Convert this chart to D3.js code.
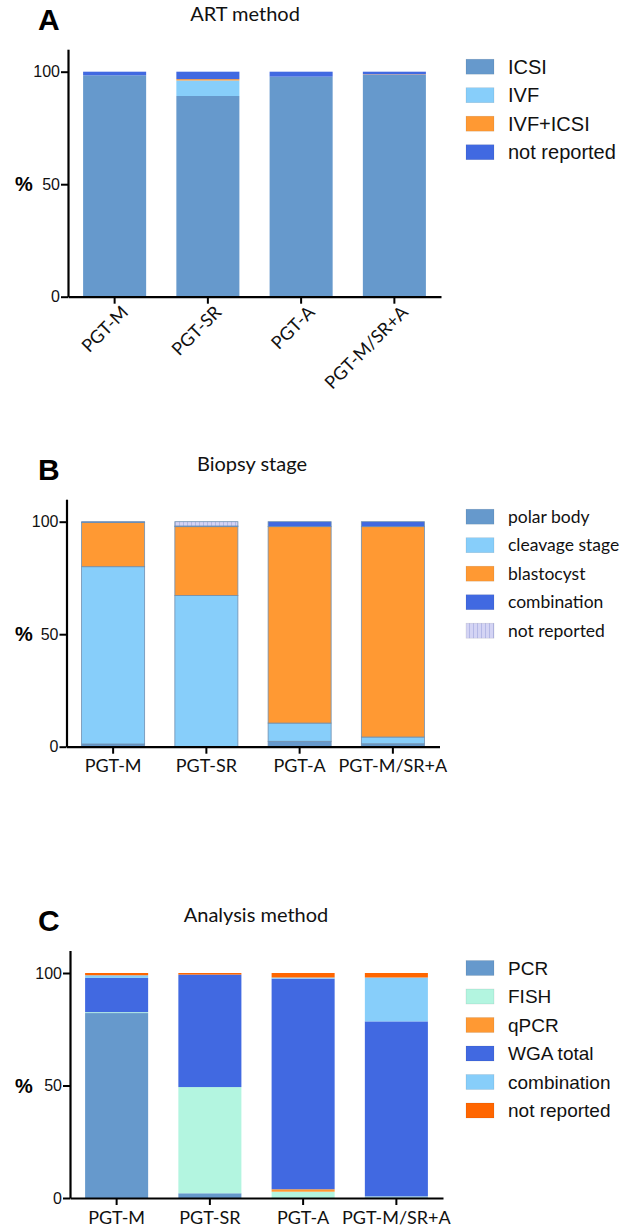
<!DOCTYPE html>
<html><head><meta charset="utf-8">
<script src="https://cdn.jsdelivr.net/npm/d3@7"></script>
<style>body{margin:0;background:#fff}</style>
</head><body>
<svg id="c" width="633" height="1232"></svg>
<script>
const categories = ["PGT-M","PGT-SR","PGT-A","PGT-M/SR+A"];
const yTicks = [0, 50, 100];

// Panel A: ART method
const artKeys = ["ICSI","IVF","IVF+ICSI","not reported"];
const icsi = [98.4, 89.2, 97.8, 98.6];
const ivf = [0, 6.9, 0, 0];
const ivfIcsi = [0, 0.6, 0, 0.2];
const artNotReported = [1.6, 3.3, 2.2, 1.2];

// Panel B: Biopsy stage
const biopsyKeys = ["polar body","cleavage stage","blastocyst","combination","not reported"];
const polarBody = [1.2, 0, 2.4, 1.3];
const cleavage = [78.8, 67.2, 8.1, 3.0];
const blastocyst = [19.6, 30.6, 87.3, 93.5];
const biopsyCombination = [0.4, 0.3, 2.2, 2.2];
const biopsyNotReported = [0, 1.9, 0, 0];

// Panel C: Analysis method
const analysisKeys = ["PCR","FISH","qPCR","WGA total","combination","not reported"];
const pcr = [82.2, 2.1, 0, 0.3];
const fish = [0.4, 47.2, 2.8, 0.4];
const qpcr = [0, 0, 1.1, 0];
const wga = [15.2, 50.0, 93.6, 77.8];
const analysisCombination = [1.2, 0, 0.5, 19.5];
const analysisNotReported = [1.0, 0.7, 2.0, 2.0];

const svg = d3.select("#c");
const defs = svg.append("defs");
const pat = defs.append("pattern").attr("id","hatch").attr("patternUnits","userSpaceOnUse")
  .attr("width",4).attr("height",4);
pat.append("rect").attr("width",4).attr("height",4).attr("fill","#d4d4f4");
pat.append("rect").attr("x",3).attr("width",1).attr("height",4).attr("fill","#b4b8e6");

const panels = [
  { letter:"A", title:"ART method", titleX:245, y0:296.7, x0:68,
    keys:artKeys, series:[icsi, ivf, ivfIcsi, artNotReported],
    colors:["#6699cc","#87cefa","#ff9933","#4169e1"], stroke:null,
    legendFont:"'Liberation Sans', Arial, sans-serif", legendSize:20, rotate:true },
  { letter:"B", title:"Biopsy stage", titleX:252, y0:746.7, x0:66.5,
    keys:biopsyKeys, series:[polarBody, cleavage, blastocyst, biopsyCombination, biopsyNotReported],
    colors:["#6699cc","#87cefa","#ff9933","#4169e1","url(#hatch)"], stroke:"#6f8fb0",
    legendFont:"Lato, 'Open Sans', sans-serif", legendSize:17.5, rotate:false },
  { letter:"C", title:"Analysis method", titleX:256, y0:1198, x0:70,
    keys:analysisKeys, series:[pcr, fish, qpcr, wga, analysisCombination, analysisNotReported],
    colors:["#6699cc","#b3f5e0","#ff9933","#4169e1","#87cefa","#ff6600"], stroke:null,
    legendFont:"'Liberation Sans', Arial, sans-serif", legendSize:19, rotate:false }
];

panels.forEach(p => {
  const g = svg.append("g");
  const y = d3.scaleLinear().domain([0,110]).range([p.y0, p.y0 - 247.5]);
  const x = d3.scaleBand().domain(categories).range([p.x0, p.x0 + 373])
    .paddingInner(0.324).paddingOuter(0.162);
  const rows = categories.map((c,i) => {
    const r = {cat:c};
    p.keys.forEach((k,j) => r[k] = p.series[j][i]);
    return r;
  });
  const stacked = d3.stack().keys(p.keys)(rows);

  g.selectAll("g.s").data(stacked).join("g").attr("class","s")
    .attr("fill",(d,i)=>p.colors[i])
    .selectAll("rect").data(d=>d).join("rect")
    .attr("x", d=>x(d.data.cat)).attr("width", x.bandwidth())
    .attr("y", d=>y(d[1])).attr("height", d=>Math.max(0, y(d[0])-y(d[1])))
    .attr("stroke", d => (p.stroke && d[1]-d[0] > 0) ? p.stroke : "none")
    .attr("stroke-width", 0.8);

  // y axis
  const ya = g.append("g").attr("transform",`translate(${p.x0},0)`)
    .call(d3.axisLeft(y).tickValues(yTicks).tickSize(7).tickPadding(1).tickSizeOuter(0));
  ya.select(".domain").attr("stroke","#000").attr("stroke-width",2.2);
  ya.selectAll(".tick line").attr("stroke","#000").attr("stroke-width",2);
  ya.selectAll(".tick text").attr("font-family","'Liberation Sans', Arial, sans-serif")
    .attr("font-size",16).attr("fill","#111");

  // x axis
  const xa = g.append("g").attr("transform",`translate(0,${p.y0})`)
    .call(d3.axisBottom(x).tickSize(7).tickSizeOuter(0).tickPadding(6));
  xa.select(".domain").attr("stroke","#000").attr("stroke-width",2.2);
  xa.selectAll(".tick line").attr("stroke","#000").attr("stroke-width",2);
  xa.selectAll(".tick text").attr("font-family","Lato, 'Open Sans', sans-serif")
    .attr("font-size",18).attr("fill","#111");
  if (p.rotate) {
    xa.selectAll(".tick text").attr("text-anchor","end")
      .attr("transform","translate(6,8) rotate(-45)").attr("dy","0.35em").attr("y",6);
  }

  // % label
  g.append("text").attr("x",24).attr("y",y(50)).attr("dy","0.35em")
    .attr("text-anchor","middle").attr("font-family","'Liberation Sans', Arial, sans-serif")
    .attr("font-weight","bold").attr("font-size",20).text("%");
  // panel letter
  g.append("text").attr("x",38).attr("y",p.y0 - 266.7).attr("font-family","'Liberation Sans', Arial, sans-serif")
    .attr("font-weight","bold").attr("font-size",30).text(p.letter);
  // title
  g.append("text").attr("x",p.titleX).attr("y",p.y0 - 276).attr("text-anchor","middle")
    .attr("font-family","Lato, 'Open Sans', sans-serif").attr("font-size",20).attr("fill","#111").text(p.title);

  // legend
  const ly0 = y(100) - 5;
  const lg = g.selectAll("g.lg").data(p.keys).join("g").attr("class","lg")
    .attr("transform",(d,i)=>`translate(466,${ly0 + i*28.5})`);
  lg.append("rect").attr("x",0).attr("y",-7.5).attr("width",28).attr("height",15)
    .attr("fill",(d,i)=>p.colors[i]).attr("stroke","rgba(0,0,0,0.12)").attr("stroke-width",0.6);
  lg.append("text").attr("x",42).attr("y",0).attr("dy","0.35em")
    .attr("font-family",p.legendFont).attr("font-size",p.legendSize).attr("fill","#111").text(d=>d);
});
</script>
</body></html>
